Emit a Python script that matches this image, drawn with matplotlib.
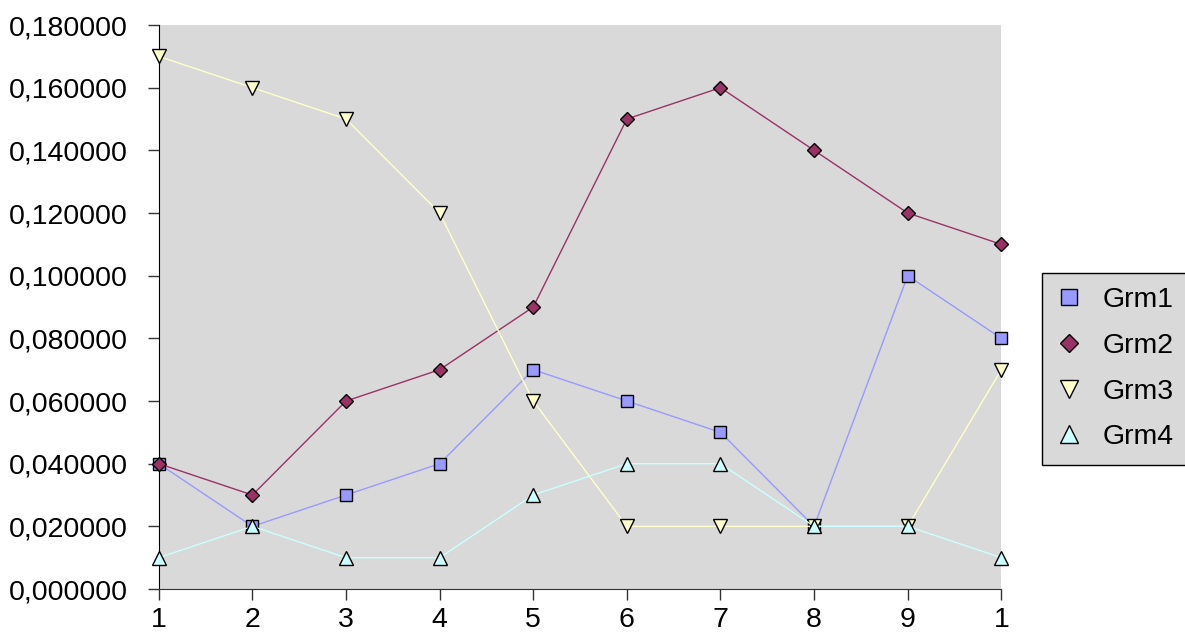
import matplotlib
matplotlib.use("Agg")
import matplotlib.pyplot as plt
from matplotlib.ticker import FuncFormatter

x_vals = [1, 2, 3, 4, 5, 6, 7, 8, 9, 10]
x_labels = ["1", "2", "3", "4", "5", "6", "7", "8", "9", "1"]
grm1 = [0.04, 0.02, 0.03, 0.04, 0.07, 0.06, 0.05, 0.02, 0.10, 0.08]
grm2 = [0.04, 0.03, 0.06, 0.07, 0.09, 0.15, 0.16, 0.14, 0.12, 0.11]
grm3 = [0.17, 0.16, 0.15, 0.12, 0.06, 0.02, 0.02, 0.02, 0.02, 0.07]
grm4 = [0.01, 0.02, 0.01, 0.01, 0.03, 0.04, 0.04, 0.02, 0.02, 0.01]

plt.rcParams['font.family'] = ['Liberation Sans', 'DejaVu Sans']
font_size = 20.5

fig = plt.figure(figsize=(11.85, 6.35), dpi=100)
ax1 = fig.add_axes([0.134, 0.0724, 0.711, 0.8882])
ax1.set_facecolor("#d9d9d9")

series = [
    (grm1, "Grm1", "#9999ff", "s", 9),
    (grm2, "Grm2", "#993366", "D", 7),
    (grm3, "Grm3", "#ffffcc", "v", 10),
    (grm4, "Grm4", "#ccffff", "^", 10),
]
for vals, name, col, mk, ms in series:
    ax1.plot(x_vals, vals, color=col, lw=1, marker=mk, markersize=ms,
             markerfacecolor=col, markeredgecolor="black", markeredgewidth=1,
             label=name, clip_on=False, zorder=3)

ax1.set_xlim(1, 10)
ax1.set_ylim(0, 0.18)
ax1.set_xticks(x_vals)
ax1.set_xticklabels(x_labels)
ax1.set_yticks([0.02 * i for i in range(10)])
ax1.yaxis.set_major_formatter(FuncFormatter(lambda v, p: ("%.6f" % v).replace(".", ",")))
ax1.tick_params(axis="both", labelsize=font_size, length=8, width=1, color="#333333")
ax1.tick_params(axis="x", pad=5)
ax1.tick_params(axis="y", pad=14.5)

for s in ["top", "right"]:
    ax1.spines[s].set_visible(False)
ax1.spines["left"].set_color("black")
ax1.spines["bottom"].set_color("#333333")

leg = ax1.legend(loc="upper left", bbox_to_anchor=(1.0487, 0.560), borderaxespad=0,
                 fontsize=font_size, frameon=True, fancybox=False, handlelength=0.9,
                 handletextpad=0.7, borderpad=0.5, labelspacing=0.69, markerscale=1.25)
leg.get_frame().set_facecolor("#d9d9d9")
leg.get_frame().set_edgecolor("black")
leg.get_frame().set_linewidth(1)
leg.get_frame().set_alpha(1)
for h in leg.get_lines():
    h.set_linestyle("none")

fig.savefig("out.png", dpi=100)
